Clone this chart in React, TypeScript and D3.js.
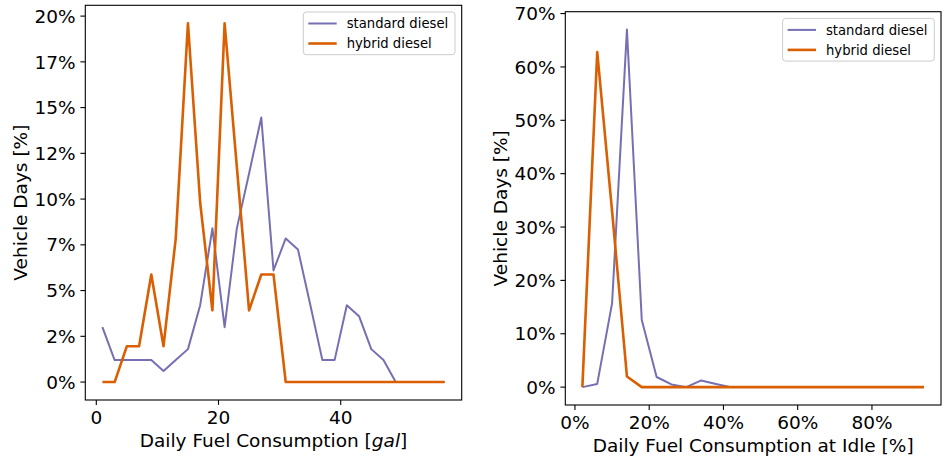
import React from "react";
import * as d3 from "d3";

// ---------- data ----------
const fuelBins = [1, 3, 5, 7, 9, 11, 13, 15, 17, 19, 21, 23, 25, 27, 29, 31, 33, 35, 37, 39, 41, 43, 45, 47, 49, 51, 53, 55, 57];
const standardFuel = [3.0, 1.2, 1.2, 1.2, 1.2, 0.6, 1.2, 1.8, 4.2, 8.4, 3.0, 8.4, 11.4, 14.46, 6.1, 7.85, 7.25, 4.25, 1.2, 1.2, 4.2, 3.6, 1.8, 1.2, 0, 0, 0, 0, 0];
const hybridFuel = [0, 0, 1.96, 1.96, 5.88, 1.96, 7.84, 19.61, 9.8, 3.92, 19.61, 11.76, 3.92, 5.88, 5.88, 0, 0, 0, 0, 0, 0, 0, 0, 0, 0, 0, 0, 0, 0];

const idleBins = [2, 6, 10, 14, 18, 22, 26, 30, 34, 38, 42, 46, 50, 54, 58, 62, 66, 70, 74, 78, 82, 86, 90, 94];
const standardIdle = [0, 0.6, 15.7, 67.0, 12.6, 1.9, 0.5, 0, 1.25, 0.6, 0, 0, 0, 0, 0, 0, 0, 0, 0, 0, 0, 0, 0, 0];
const hybridIdle = [0, 62.8, 33.0, 2.0, 0, 0, 0, 0, 0, 0, 0, 0, 0, 0, 0, 0, 0, 0, 0, 0, 0, 0, 0, 0];

const leftXTicks = [0, 20, 40];
const leftXTickLabels = ["0", "20", "40"];
const leftYTicks = [0, 2.5, 5, 7.5, 10, 12.5, 15, 17.5, 20];
const leftYTickLabels = ["0%", "2%", "5%", "7%", "10%", "12%", "15%", "17%", "20%"];

const rightXTicks = [0, 20, 40, 60, 80];
const rightXTickLabels = ["0%", "20%", "40%", "60%", "80%"];
const rightYTicks = [0, 10, 20, 30, 40, 50, 60, 70];
const rightYTickLabels = ["0%", "10%", "20%", "30%", "40%", "50%", "60%", "70%"];

const seriesNames = ["standard diesel", "hybrid diesel"];
const seriesColors = ["#7570b3", "#d95f02"];
const seriesWidths = [2, 2.6];

const FONT = "DejaVu Sans, sans-serif";
const FS = 18.5;
const LEG_FS = 13.2;

function padDomain(vals: number[]): [number, number] {
  const [lo, hi] = d3.extent(vals) as [number, number];
  const m = (hi - lo) * 0.05;
  return [lo - m, hi + m];
}

type PanelProps = {
  box: { x0: number; x1: number; y0: number; y1: number };
  xs: number[];
  ys: number[][];
  xTicks: number[];
  xTickLabels: string[];
  yTicks: number[];
  yTickLabels: string[];
  xLabel: React.ReactNode;
  yLabel: string;
};

function Panel({ box, xs, ys, xTicks, xTickLabels, yTicks, yTickLabels, xLabel, yLabel }: PanelProps) {
  const x = d3.scaleLinear().domain(padDomain(xs)).range([box.x0, box.x1]);
  const y = d3.scaleLinear().domain(padDomain(ys.flat())).range([box.y1, box.y0]);
  const line = d3
    .line<[number, number]>()
    .x((d) => x(d[0]))
    .y((d) => y(d[1]));
  const legW = 151.7;
  const legH = 42.7;
  const legX = box.x1 - 6.7 - legW;
  const legY = box.y0 + 6.7;
  const clipId = `clip-${Math.round(box.x0)}`;
  return (
    <g>
      <defs>
        <clipPath id={clipId}>
          <rect x={box.x0} y={box.y0} width={box.x1 - box.x0} height={box.y1 - box.y0} />
        </clipPath>
      </defs>
      <g clipPath={`url(#${clipId})`}>
        {ys.map((s, i) => (
          <path
            key={i}
            d={line(xs.map((v, j) => [v, s[j]] as [number, number])) || ""}
            fill="none"
            stroke={seriesColors[i]}
            strokeWidth={seriesWidths[i]}
            strokeLinejoin="round"
          />
        ))}
      </g>
      <rect
        x={box.x0}
        y={box.y0}
        width={box.x1 - box.x0}
        height={box.y1 - box.y0}
        fill="none"
        stroke="#000"
        strokeWidth={1.1}
      />
      {xTicks.map((t, i) => (
        <g key={`xt${i}`}>
          <line x1={x(t)} x2={x(t)} y1={box.y1} y2={box.y1 + 4.9} stroke="#000" strokeWidth={1.1} />
          <text x={x(t)} y={box.y1 + 24} textAnchor="middle" fontFamily={FONT} fontSize={FS} fill="#000">
            {xTickLabels[i]}
          </text>
        </g>
      ))}
      {yTicks.map((t, i) => (
        <g key={`yt${i}`}>
          <line x1={box.x0 - 4.9} x2={box.x0} y1={y(t)} y2={y(t)} stroke="#000" strokeWidth={1.1} />
          <text
            x={box.x0 - 9.8}
            y={y(t)}
            dy="0.36em"
            textAnchor="end"
            fontFamily={FONT}
            fontSize={FS}
            fill="#000"
          >
            {yTickLabels[i]}
          </text>
        </g>
      ))}
      <text
        x={(box.x0 + box.x1) / 2}
        y={box.y1 + 46.5}
        textAnchor="middle"
        fontFamily={FONT}
        fontSize={FS}
        fill="#000"
      >
        {xLabel}
      </text>
      <text
        transform={`translate(${box.x0 - 58.5},${(box.y0 + box.y1) / 2}) rotate(-90)`}
        textAnchor="middle"
        fontFamily={FONT}
        fontSize={FS}
        fill="#000"
      >
        {yLabel}
      </text>
      <rect
        x={legX}
        y={legY}
        width={legW}
        height={legH}
        rx={3}
        fill="#fff"
        fillOpacity={0.8}
        stroke="#cccccc"
        strokeWidth={1}
      />
      {seriesNames.map((n, i) => {
        const cy = legY + 11.5 + i * 20;
        return (
          <g key={n}>
            <line
              x1={legX + 5}
              x2={legX + 33.4}
              y1={cy}
              y2={cy}
              stroke={seriesColors[i]}
              strokeWidth={seriesWidths[i]}
            />
            <text x={legX + 43.4} y={cy} dy="0.36em" fontFamily={FONT} fontSize={LEG_FS} fill="#000">
              {n}
            </text>
          </g>
        );
      })}
    </g>
  );
}

export default function App() {
  return (
    <svg
      width={945}
      height={458}
      style={{ position: "absolute", left: 0, top: 0, background: "#fff" }}
    >
      <rect x={0} y={0} width={945} height={458} fill="#fff" />
      <Panel
        box={{ x0: 85.3, x1: 461.7, y0: 5.3, y1: 400 }}
        xs={fuelBins}
        ys={[standardFuel, hybridFuel]}
        xTicks={leftXTicks}
        xTickLabels={leftXTickLabels}
        yTicks={leftYTicks}
        yTickLabels={leftYTickLabels}
        xLabel={
          <>
            Daily Fuel Consumption [<tspan fontStyle="italic">gal</tspan>]
          </>
        }
        yLabel="Vehicle Days [%]"
      />
      <Panel
        box={{ x0: 565.3, x1: 941, y0: 11.7, y1: 405 }}
        xs={idleBins}
        ys={[standardIdle, hybridIdle]}
        xTicks={rightXTicks}
        xTickLabels={rightXTickLabels}
        yTicks={rightYTicks}
        yTickLabels={rightYTickLabels}
        xLabel="Daily Fuel Consumption at Idle [%]"
        yLabel="Vehicle Days [%]"
      />
    </svg>
  );
}
